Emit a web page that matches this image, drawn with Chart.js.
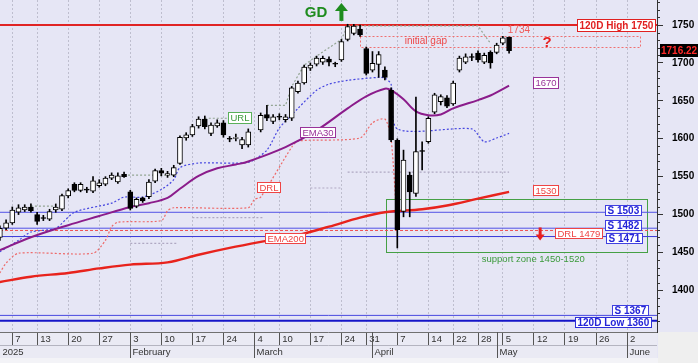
<!DOCTYPE html>
<html><head><meta charset="utf-8">
<script src="https://cdn.jsdelivr.net/npm/chart.js@4.4.1/dist/chart.umd.min.js"></script>
<style>html,body{margin:0;padding:0;background:#E6E6F5;overflow:hidden}canvas{display:block}</style>
</head><body>
<canvas id="c" width="698" height="363"></canvas>
<script>
// x = trading-day index (ATHEX calendar), 0 = 7 January 2025
const candleIdx = [-2,-1,0,1,2,3,4,5,6,7,8,9,10,11,12,13,14,15,16,17,18,19,20,21,22,23,24,25,26,27,28,29,30,31,32,33,34,35,36,37,38,
  40,41,42,43,44,45,46,47,48,49,50,51,52,53,54,55,56,57,58,59,60,61,62,63,64,65,66,67,68,69,70,71,72,73,74,75,76,77,78,79,80];
const opens  = [1470,1482,1489,1503,1506,1510,1500,1496,1494,1506,1507,1524.5,1540,1532,1533.5,1531,1538,1540,1548,1543,1553,1530,1511,1522,1523.5,1544,1558,1552,1552,1567.5,1601,1605,1617,1626,1607,1617,1621,1600.5,1600.5,1592,1592,
  1611.5,1632,1623,1629.5,1625,1627,1662,1673.5,1693,1698.5,1701,1705,1699.5,1704,1731,1739,1744.5,1719,1690.5,1698,1690.5,1664,1598,1504,1552,1528,1584.5,1596,1635,1649,1654,1646,1690.5,1701,1708.5,1713,1701,1714,1714,1726,1734];
const highs  = [1485,1493,1510,1513,1513,1514,1503,1499,1507,1514,1527,1534,1542,1542,1536,1550,1546,1550,1555,1555,1556,1532,1522,1523,1546,1560,1561,1557,1565,1604,1608,1619,1629,1630,1621,1625,1624,1603,1606,1602,1613,
  1634,1644,1632,1633,1632,1669,1676,1697,1700,1709,1709,1708,1701,1731,1751,1751,1750,1721,1715,1715,1695,1667,1600,1585,1556,1655,1596,1629,1660,1658,1657,1676,1709,1712,1712,1716,1713,1716,1726,1735,1734];
const lows   = [1466,1480,1487,1500,1504,1503,1487,1492,1492,1503,1505,1522,1530,1530,1529,1529,1536,1538,1546,1541,1549,1506,1509,1516,1521,1542,1551,1549,1550,1566,1598,1603,1614,1613,1604,1615,1602,1596,1597,1587,1589,
  1609,1624,1620,1625,1622,1624,1660,1672,1690,1696,1698,1696,1695,1702,1729,1737,1735,1684,1688,1681,1677.5,1596,1456,1497,1497,1524,1559,1594,1633,1644.5,1641,1644,1688,1699,1703,1701,1699,1693,1712,1724,1713];
const closes = [1482,1489,1506,1509,1510,1505,1491,1494.8,1504,1510,1525,1531.5,1532,1540,1532.3,1544.5,1542,1548,1552,1551,1550,1508,1520,1518,1543,1558,1554.5,1554,1562,1602,1605,1616,1626,1616,1618,1621,1605,1599.3,1601.7,1599,1609,
  1631,1627,1629,1628.3,1629,1667,1673.5,1694.5,1697,1706.5,1706,1701,1698.3,1728,1748,1748.5,1737,1686,1699.5,1711,1681,1598.5,1480,1572,1530,1583,1583.3,1627,1658,1655.5,1643,1673.5,1706.5,1708,1707.3,1704,1710,1700,1723.5,1733,1716.22];

const ema30Idx = [-2,3,9,14,19,22,25,27,30,33,36,38,44,49,54,57,60,61,63,65,67,69,71,75,77,80];
const ema30Val = [1453,1470,1486,1498,1510,1515,1522,1534,1551,1561,1566,1570,1589,1611,1640,1656,1666,1664,1652,1636,1631,1632,1640,1651,1657,1670];
const ema200Idx = [-2,3,9,14,19,25,30,35,40,46,51,56,60,66,70,75,80];
const ema200Val = [1411,1418,1423,1429,1434,1437,1447,1456,1464,1473,1484,1496,1503,1507,1512,1521,1530];
const blueIdx = [-2,1,3,7,10,16,18,21,24,26,27,30,38,41,43,46,49,51,54,59,60,61,62,74,76,78,80];
const blueVal = [1451,1466,1477,1482,1503,1515,1523,1523,1533,1546,1562,1568,1569,1585,1614,1640,1664,1672,1677,1681,1680,1672,1613,1613,1596,1601,1607];
const drlIdx = [-2,-1,1,13,15,16,17,24,25,26,38,39,40,45,46,56,58,60,61,62];
const drlVal = [1423,1436,1449,1449,1466,1484,1490,1492,1505,1509,1509,1520,1523,1589,1597,1601,1621,1626,1600,1480];
const urlIdx = [3,7,8,18,26,27,31,35,36,41,44,45,47,49,53,54,75,76,77];
const urlVal = [1511,1511,null,1552,1552,null,1627,1627,null,1644,1644,1669,1697,1709,1731,1749,1749,1737,1726];
const lowIdx = [19,26.5,27,29,40.5,41,48,53,53.5,54,80];
const lowVal = [1462,1462,null,1496,1496,null,1535,1535,null,1556,1556];

const levelNames  = ['120D High 1750','S 1503','S 1482','S 1471','DRL 1479','S 1367','120D Low 1360'];
const levelValues = [1750,1503,1482,1471,1479,1367,1360];
const supportZone = [1450,1520];
const gapZone = [1721,1735];
const lastPrice = 1716.22;

const weekTickIdx = [0,4,9,14,19,24,29,34,39,43,48,53,57,62,67,71,75,79,84,89,94,99];
const weekTickLabels = ['7','13','20','27','3','10','17','24','4','10','17','24','31','7','14','22','28','5','12','19','26','2'];
const monthIdx = [-1.98,19,39,58,78,99];
const monthLabels = ['2025','February','March','April','May','June'];
const yTickValues = [1400,1450,1500,1550,1600,1650,1700,1750];

const X_MIN = -1.98, X_MAX = 103.82, Y_MIN = 1345.1, Y_MAX = 1783;
const FONT = "'Liberation Sans', Arial, sans-serif";

const pts = (xs, ys) => xs.map((x,k)=>({x, y: ys[k]}));
const lineDs = (xs, ys, color, width, dash, tension, order) => ({
  type:'line', data: pts(xs, ys), borderColor: color, borderWidth: width, borderDash: dash,
  pointRadius: 0, fill: false, tension: tension, spanGaps: false, order: order
});

const datasets = [];
datasets.push({
  type:'bar', label:'body', order: 0, grouped:false, barThickness:5, borderWidth:1, borderColor:'#000', borderSkipped:false,
  data: candleIdx.map((x,k)=>({x, y:[opens[k], closes[k]]})),
  backgroundColor: candleIdx.map((x,k)=> closes[k] >= opens[k] ? '#FFFFFF' : '#000000')
});
datasets.push({
  type:'bar', label:'wick', order: 1, grouped:false, barThickness:1, borderWidth:0,
  data: candleIdx.map((x,k)=>({x, y:[lows[k], highs[k]]})), backgroundColor:'#000'
});
datasets.push(lineDs(ema200Idx, ema200Val, '#E8231C', 2.4, [], 0.35, 3));
datasets.push(lineDs(ema30Idx, ema30Val, '#8B1C8B', 2, [], 0.35, 3));
datasets.push(lineDs(blueIdx, blueVal, '#4646E0', 1.2, [2,2], 0.25, 4));
datasets.push(lineDs(drlIdx, drlVal, '#EE6A6A', 1.2, [2,2], 0.25, 4));
datasets.push(lineDs(urlIdx, urlVal, '#93A593', 1.2, [2,2], 0, 5));
datasets.push(lineDs(lowIdx, lowVal, '#AFA8C2', 1.2, [2,2], 0, 5));
const levelStyle = {
  '120D High 1750':['#E02424',2,[]], 'S 1503':['#5252E6',1,[]], 'S 1482':['#5252E6',1,[]], 'S 1471':['#3A3AD8',1,[]],
  'DRL 1479':['#F05050',1,[3,2]], 'S 1367':['#4848E0',1,[]], '120D Low 1360':['#1515C8',2,[]]
};
levelNames.forEach((n,k)=>{
  const st = levelStyle[n];
  datasets.push(lineDs([X_MIN, X_MAX], [levelValues[k], levelValues[k]], st[0], st[1], st[2], 0, 6));
});

function tagBox(ctx, text, x, yc, o){
  ctx.font = o.font; const w = ctx.measureText(text).width;
  const pad = o.pad ?? 2, h = o.h ?? 11;
  const bx = Math.round(x)+0.5, by = Math.round(yc - h/2)+0.5, bw = Math.round(w + 2*pad);
  ctx.fillStyle = o.bg ?? '#FFFFFF'; ctx.fillRect(bx, by, bw, h);
  ctx.strokeStyle = o.border; ctx.lineWidth = 1; ctx.setLineDash([]); ctx.strokeRect(bx, by, bw, h);
  ctx.fillStyle = o.color; ctx.textBaseline = 'middle'; ctx.textAlign = 'left';
  ctx.fillText(text, bx + pad, by + h/2 + 0.5);
}

const annotations = {
  id:'annotations',
  beforeDraw(chart){
    const {ctx, chartArea:a} = chart;
    ctx.save();
    ctx.fillStyle = '#E6E6F5'; ctx.fillRect(0,0,698,363);
    ctx.fillStyle = '#EAEAF4'; ctx.fillRect(0, a.bottom, a.right, 26);
    ctx.fillStyle = '#F3F3F7'; ctx.fillRect(0, a.bottom+26, 698, 10);
    ctx.fillStyle = '#EFEFEF'; ctx.fillRect(a.right+1, a.bottom, 698-a.right, 363-a.bottom);
    ctx.restore();
  },
  beforeDatasetsDraw(chart){
    const {ctx, scales:{x, y}} = chart;
    ctx.save();
    // support zone
    ctx.strokeStyle = '#45A045'; ctx.lineWidth = 1;
    const sx1 = Math.round(x.getPixelForValue(60.1))+0.5, sx2 = Math.round(x.getPixelForValue(102.2))+0.5;
    const sy1 = Math.round(y.getPixelForValue(supportZone[1]))+0.5, sy2 = Math.round(y.getPixelForValue(supportZone[0]))+0.5;
    ctx.strokeRect(sx1, sy1, sx2-sx1, sy2-sy1);
    // initial gap
    ctx.strokeStyle = '#F07070'; ctx.setLineDash([2,2]);
    const gx1 = Math.round(x.getPixelForValue(56))+0.5, gx2 = Math.round(x.getPixelForValue(101.1))+0.5;
    const gy1 = Math.round(y.getPixelForValue(gapZone[1]))+0.5, gy2 = Math.round(y.getPixelForValue(gapZone[0]))+0.5;
    ctx.strokeRect(gx1, gy1, gx2-gx1, gy2-gy1);
    ctx.restore();
  },
  afterDatasetsDraw(chart){
    const {ctx, scales:{x, y}} = chart;
    const X = v => x.getPixelForValue(v), Y = v => y.getPixelForValue(v);
    ctx.save();
    const fB = 'bold 10px ' + FONT, fR = '9.5px ' + FONT;
    // level tags
    tagBox(ctx, '120D High 1750', X(90.9), Y(1750), {font:fB, color:'#E02020', border:'#E02020', h:12});
    tagBox(ctx, 'S 1503', X(95.4), Y(1505.5), {font:fB, color:'#2424D8', border:'#4040E0', h:10});
    tagBox(ctx, 'S 1482', X(95.4), Y(1486.6), {font:fB, color:'#2424D8', border:'#4040E0', h:10});
    tagBox(ctx, 'S 1471', X(95.6), Y(1469), {font:fB, color:'#2424D8', border:'#4040E0', h:10});
    tagBox(ctx, 'DRL 1479', X(87.4), Y(1476), {font:fR, color:'#EE4444', border:'#EE4444', h:10});
    tagBox(ctx, 'S 1367', X(96.5), Y(1374), {font:fB, color:'#2424D8', border:'#4040E0', h:10});
    tagBox(ctx, '120D Low 1360', X(90.6), Y(1358.7), {font:fB, color:'#2424D8', border:'#3030D8', h:10});
    tagBox(ctx, '1530', X(83.8), Y(1533), {font:fR, color:'#EE4444', border:'#EE4444', h:10});
    tagBox(ctx, '1670', X(83.8), Y(1673.8), {font:fR, color:'#993399', border:'#993399', h:11});
    tagBox(ctx, 'URL', X(34.7), Y(1628), {font:fR, color:'#3A9A3A', border:'#5AB05A', h:11});
    tagBox(ctx, 'EMA30', X(46.3), Y(1609), {font:fR, color:'#993399', border:'#993399', h:10});
    tagBox(ctx, 'DRL', X(39.4), Y(1536), {font:fR, color:'#EE4444', border:'#EE4444', h:10});
    tagBox(ctx, 'EMA200', X(40.7), Y(1469.5), {font:fR, color:'#EE4444', border:'#EE4444', h:10});
    // plain texts
    ctx.textBaseline = 'middle'; ctx.textAlign = 'left';
    ctx.font = fR; ctx.fillStyle = '#3C9A3C'; ctx.fillText('support zone 1450-1520', X(75.6), Y(1441.4));
    ctx.font = '10px ' + FONT; ctx.fillStyle = '#EE4848'; ctx.fillText('initial gap', X(63.2), Y(1729));
    ctx.fillStyle = '#EE5A5A'; ctx.fillText('1734', X(79.8), Y(1742.7));
    ctx.font = 'bold 15px ' + FONT; ctx.fillStyle = '#E82020'; ctx.fillText('?', X(85.4), Y(1726));
    ctx.font = 'bold 15px ' + FONT; ctx.fillStyle = '#1E8C1E'; ctx.fillText('GD', X(47.1), Y(1766));
    // green up arrow
    const ax = X(53.0), ay = Y(1766);
    ctx.fillStyle = '#1E8C1E';
    ctx.fillRect(ax-2, ay-3, 4, 11);
    ctx.beginPath(); ctx.moveTo(ax-6.5, ay-2); ctx.lineTo(ax+6.5, ay-2); ctx.lineTo(ax, ay-10); ctx.closePath(); ctx.fill();
    // red down arrow
    const rx = X(85), ry = Y(1483);
    ctx.fillStyle = '#E82020';
    ctx.fillRect(rx-1.5, ry, 3, 8);
    ctx.beginPath(); ctx.moveTo(rx-4.5, ry+7); ctx.lineTo(rx+4.5, ry+7); ctx.lineTo(rx, ry+13); ctx.closePath(); ctx.fill();
    ctx.restore();
  },
  afterDraw(chart){
    const {ctx, chartArea:a, scales:{x, y}} = chart;
    ctx.save();
    // x-axis frame
    ctx.strokeStyle = '#707070'; ctx.lineWidth = 1;
    ctx.beginPath(); ctx.moveTo(0, a.bottom+0.5); ctx.lineTo(a.right, a.bottom+0.5); ctx.stroke();
    ctx.strokeStyle = '#B4B4C0';
    ctx.beginPath(); ctx.moveTo(0, a.bottom+13.5); ctx.lineTo(a.right, a.bottom+13.5); ctx.stroke();
    // month row
    ctx.font = '9.5px ' + FONT; ctx.fillStyle = '#333'; ctx.textBaseline = 'middle'; ctx.textAlign = 'left';
    monthIdx.forEach((m,k)=>{
      const px = Math.round(x.getPixelForValue(m)) + 0.5;
      if (k > 0) {
        ctx.strokeStyle = '#555';
        ctx.beginPath(); ctx.moveTo(px, a.bottom); ctx.lineTo(px, a.bottom+26); ctx.stroke();
      }
      ctx.fillText(monthLabels[k], Math.max(px, 0) + 2, a.bottom + 20);
    });
    // minor y ticks
    ctx.strokeStyle = '#333';
    for (let v = 1350; v <= 1780; v += 10) {
      if (v % 50 === 0) continue;
      const py = Math.round(y.getPixelForValue(v)) + 0.5;
      ctx.beginPath(); ctx.moveTo(a.right, py); ctx.lineTo(a.right+3, py); ctx.stroke();
    }
    // last price tag
    const ly = y.getPixelForValue(lastPrice);
    ctx.fillStyle = '#000'; ctx.fillRect(a.right+3, Math.round(ly-6.5), 698-a.right-3, 13);
    ctx.font = 'bold 10px ' + FONT; ctx.fillStyle = '#FF2A2A'; ctx.textBaseline='middle';
    ctx.fillText(lastPrice.toFixed(2), a.right+4, Math.round(ly)+0.5);
    ctx.restore();
  }
};

const weekLabelMap = {}; weekTickIdx.forEach((v,k)=> weekLabelMap[v] = weekTickLabels[k]);

new Chart(document.getElementById('c'), {
  data: { datasets },
  options: {
    responsive:false, animation:false, events:[],
    layout:{ padding:0, autoPadding:false },
    plugins:{ legend:{display:false}, tooltip:{enabled:false} },
    scales:{
      x:{ type:'linear', position:'bottom', min:X_MIN, max:X_MAX, offset:false,
        afterBuildTicks: s => { s.ticks = weekTickIdx.map(v=>({value:v})); },
        afterFit: s => { s.height = 31; s.paddingLeft = 0; s.paddingRight = 0; },
        grid:{ offset:false, drawOnChartArea:true, color:'#BEBECE', lineWidth:1, tickLength:13, tickColor:'#555', tickBorderDash:[] },
        border:{ display:false, dash:[2,2] },
        ticks:{ autoSkip:false, maxRotation:0, minRotation:0, align:'start', labelOffset:3, padding:-11,
          color:'#333', font:{family:FONT, size:9.5}, callback: v => weekLabelMap[v] ?? '' }
      },
      y:{ type:'linear', position:'right', min:Y_MIN, max:Y_MAX,
        afterBuildTicks: s => { s.ticks = yTickValues.map(v=>({value:v})); },
        afterFit: s => { s.width = 41; s.paddingTop = 0; s.paddingBottom = 0; },
        grid:{ drawOnChartArea:false, tickLength:6, tickColor:'#333' },
        border:{ display:true, color:'#333', width:1 },
        ticks:{ padding:9, color:'#000', font:{family:FONT, size:10, weight:'bold'}, callback: v => String(v) }
      }
    }
  },
  plugins:[annotations]
});
</script>
</body></html>
